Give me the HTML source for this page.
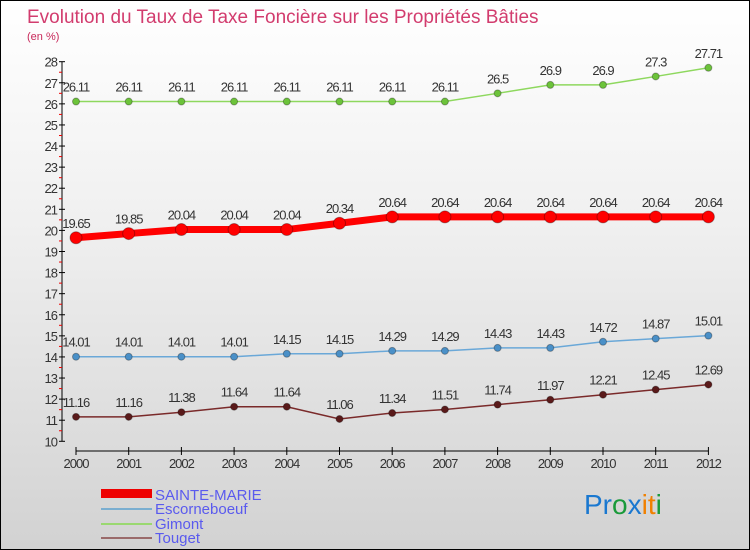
<!DOCTYPE html>
<html><head><meta charset="utf-8"><style>
body{margin:0}
#c{width:748px;height:548px;border:1px solid #000;background:linear-gradient(#fff,#f0f0f0 40%,#d2d2d2);position:relative;font-family:"Liberation Sans",sans-serif;overflow:hidden}
svg{position:absolute;left:0;top:0}
</style></head><body>
<div id="c">
<svg id="s" width="748" height="548">
<text x="26" y="22" font-size="19" fill="#d23c6e">Evolution du Taux de Taxe Foncière sur les Propriétés Bâties</text>
<text x="26" y="39" font-size="11" fill="#c8285a">(en %)</text>
<g id="axes"></g><g id="series"></g>
<g>
<rect x="100" y="488" width="51" height="9" fill="#e00"/>
<text x="154" y="499" font-size="15" fill="#5a5aee">SAINTE-MARIE</text>
<line x1="100" y1="508" x2="151" y2="508" stroke="#7aaed0" stroke-width="2"/>
<text x="154" y="513" font-size="15" fill="#5a5aee">Escorneboeuf</text>
<line x1="100" y1="523" x2="151" y2="523" stroke="#9ad870" stroke-width="2"/>
<text x="154" y="528" font-size="15" fill="#5a5aee">Gimont</text>
<line x1="100" y1="537" x2="151" y2="537" stroke="#9a6a6a" stroke-width="2"/>
<text x="154" y="542" font-size="15" fill="#5a5aee">Touget</text>
</g>
<text x="583" y="513" font-size="28"><tspan fill="#1a78d0">Pr</tspan><tspan fill="#1a9a3a">o</tspan><tspan fill="#1a78d0">x</tspan><tspan fill="#f08000">i</tspan><tspan fill="#f08000">t</tspan><tspan fill="#1a9a3a">i</tspan></text>
</svg></div>
<script>
const years=[2000,2001,2002,2003,2004,2005,2006,2007,2008,2009,2010,2011,2012];
const sainteMarie=[19.65,19.85,20.04,20.04,20.04,20.34,20.64,20.64,20.64,20.64,20.64,20.64,20.64];
const escorneboeuf=[14.01,14.01,14.01,14.01,14.15,14.15,14.29,14.29,14.43,14.43,14.72,14.87,15.01];
const gimont=[26.11,26.11,26.11,26.11,26.11,26.11,26.11,26.11,26.5,26.9,26.9,27.3,27.71];
const touget=[11.16,11.16,11.38,11.64,11.64,11.06,11.34,11.51,11.74,11.97,12.21,12.45,12.69];
const yTicks=[10,11,12,13,14,15,16,17,18,19,20,21,22,23,24,25,26,27,28];
const ns="http://www.w3.org/2000/svg";
const xS=i=>75+i*52.7, yS=v=>440.3-(v-10)*21.09;
function mk(t,a,p){const e=document.createElementNS(ns,t);for(const k in a)e.setAttribute(k,a[k]);p.appendChild(e);return e;}
const ax=document.getElementById('axes'), sg=document.getElementById('series');
let e=mk('line',{x1:61,y1:yS(28),x2:61,y2:yS(10),stroke:'#000'},ax);


yTicks.forEach(v=>{
 mk('line',{x1:58,x2:64,y1:yS(v),y2:yS(v),stroke:'#000'},ax);
 if(v<28) mk('line',{x1:58,x2:61,y1:yS(v+0.5),y2:yS(v+0.5),stroke:'#e00'},ax);
 const t=mk('text',{x:56,y:yS(v)+5,'font-size':13,fill:'#333','text-anchor':'end','letter-spacing':'-1'},ax);
 t.textContent=v;
 
 
});
e=mk('line',{x1:xS(0),y1:450,x2:xS(12),y2:450,stroke:'#000'},ax);


years.forEach((y,i)=>{
 mk('line',{x1:xS(i),x2:xS(i),y1:446,y2:454,stroke:'#000'},ax);
 const t=mk('text',{x:xS(i),y:467,'font-size':13,fill:'#333','text-anchor':'middle','letter-spacing':'-1'},ax);
 t.textContent=y;
 
 
});
function series(name,vals,col,dot,w,r){
 const g=mk('g',{},sg);
 
 
 mk('polyline',{points:vals.map((v,i)=>xS(i)+','+yS(v)).join(' '),fill:'none',stroke:col,'stroke-width':w},g);
 vals.forEach((v,i)=>{
  const c=mk('circle',{cx:xS(i),cy:yS(v),r:r,fill:dot,stroke:'rgba(0,0,0,0.3)'},g);
  
  
  const t=mk('text',{x:xS(i),y:yS(v)-10,'font-size':13,fill:'#333','text-anchor':'middle','letter-spacing':'-1'},g);
  t.textContent=v;
  
  
 });
}
series('gimont',gimont,'#8ed85e','#6cc33a',1.5,3.5);
series('escorneboeuf',escorneboeuf,'#6aa8d8','#4a90c8',1.5,3.5);
series('touget',touget,'#7a2a2a','#5a1a1a',1.5,3.5);
series('sainte-marie',sainteMarie,'#f00','#f00',7,6);
</script>
</body></html>
